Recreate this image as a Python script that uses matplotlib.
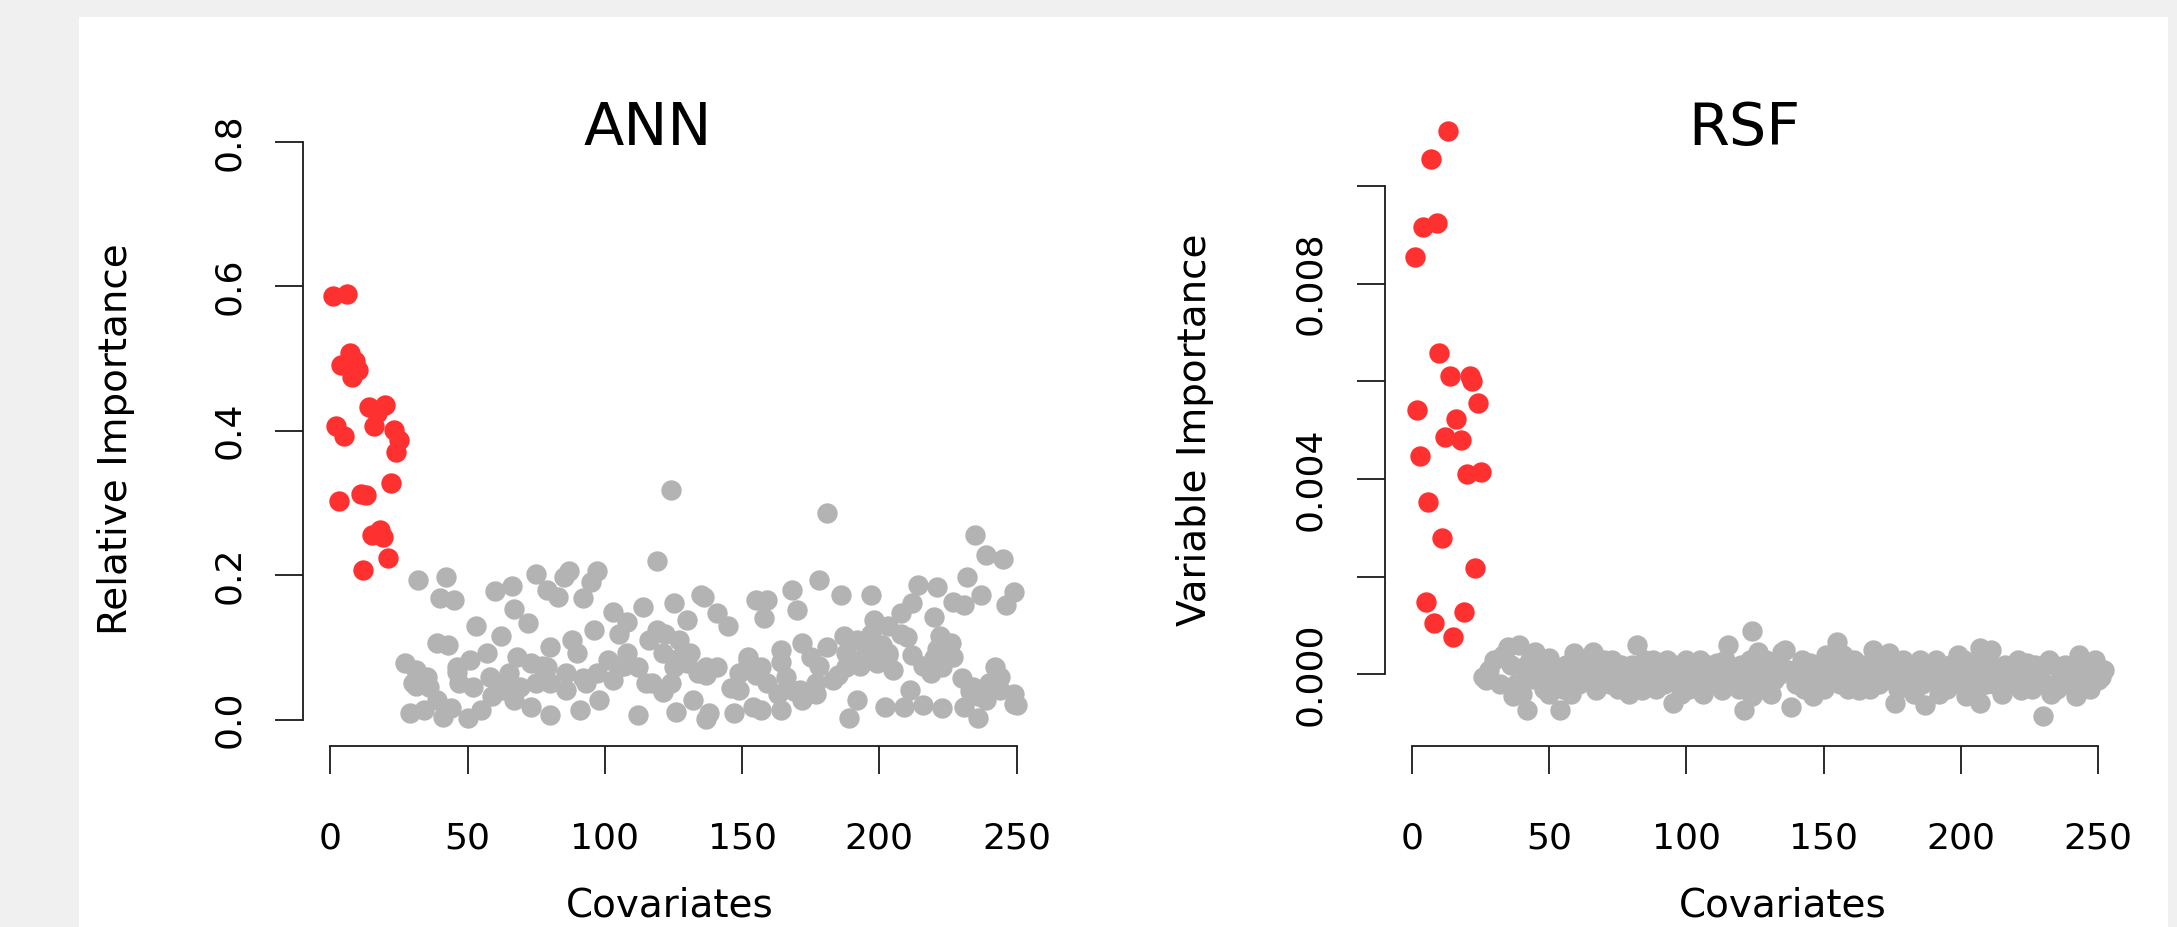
import matplotlib
matplotlib.use("Agg")
import matplotlib.pyplot as plt
from matplotlib.patches import Rectangle

plt.rcParams['font.family'] = ['DejaVu Sans']

# --- data ---
ann_red_x = list(range(1, 26))
ann_red_y = [0.586, 0.406, 0.302, 0.491, 0.392, 0.589, 0.507, 0.475, 0.497, 0.484,
             0.313, 0.207, 0.311, 0.433, 0.256, 0.406, 0.425, 0.262, 0.253, 0.436,
             0.223, 0.327, 0.401, 0.371, 0.387]

ann_gray_x = [27, 29, 30, 31, 31, 32, 34, 35, 36, 39, 39, 40, 41, 42, 43, 44, 45, 46,
              46, 47, 50, 51, 52, 53, 55, 57, 58, 59, 60, 62, 63, 64, 65, 66, 67, 67,
              68, 69, 72, 73, 73, 75, 75, 77, 79, 79, 80, 80, 80, 83, 85, 86, 86, 87,
              88, 90, 91, 92, 92, 93, 95, 96, 97, 97, 98, 101, 103, 103, 105, 105, 107,
              108, 108, 112, 112, 114, 115, 116, 117, 119, 119, 121, 121, 122, 124, 124,
              125, 125, 126, 127, 127, 130, 130, 131, 132, 134, 135, 136, 137, 137, 137,
              137, 138, 141, 141, 145, 146, 147, 149, 149, 152, 152, 154, 155, 155, 157,
              157, 158, 159, 159, 163, 164, 164, 164, 166, 168, 169, 170, 171, 172, 172,
              175, 177, 177, 178, 178, 181, 181, 183, 185, 186, 187, 188, 188, 189, 192,
              192, 193, 193, 195, 197, 197, 197, 198, 199, 201, 202, 203, 203, 203, 205,
              208, 208, 209, 210, 211, 212, 212, 214, 216, 216, 219, 220, 220, 221, 221,
              222, 223, 223, 226, 227, 227, 230, 231, 231, 232, 233, 234, 235, 236, 236,
              237, 239, 239, 240, 242, 242, 244, 244, 245, 246, 249, 249, 249, 250]
ann_gray_y = [0.078, 0.009, 0.050, 0.069, 0.046, 0.193, 0.013, 0.059, 0.045, 0.106,
              0.027, 0.168, 0.004, 0.198, 0.103, 0.016, 0.166, 0.073, 0.066, 0.050,
              0.002, 0.082, 0.045, 0.129, 0.013, 0.092, 0.059, 0.032, 0.178, 0.115,
              0.041, 0.051, 0.064, 0.185, 0.153, 0.027, 0.087, 0.045, 0.133, 0.078,
              0.018, 0.202, 0.050, 0.074, 0.179, 0.073, 0.101, 0.050, 0.006, 0.170,
              0.198, 0.041, 0.064, 0.205, 0.110, 0.092, 0.013, 0.168, 0.058, 0.050,
              0.191, 0.124, 0.205, 0.064, 0.027, 0.082, 0.149, 0.055, 0.119, 0.073,
              0.074, 0.135, 0.092, 0.073, 0.006, 0.156, 0.050, 0.110, 0.051, 0.124,
              0.219, 0.092, 0.038, 0.119, 0.318, 0.050, 0.161, 0.073, 0.011, 0.110,
              0.085, 0.138, 0.078, 0.092, 0.027, 0.064, 0.172, 0.170, 0.066, 0.001,
              0.073, 0.062, 0.009, 0.147, 0.073, 0.129, 0.043, 0.009, 0.064, 0.041,
              0.087, 0.082, 0.018, 0.166, 0.062, 0.073, 0.013, 0.140, 0.166, 0.050,
              0.036, 0.096, 0.013, 0.080, 0.059, 0.179, 0.039, 0.152, 0.041, 0.106,
              0.027, 0.087, 0.050, 0.036, 0.193, 0.074, 0.286, 0.101, 0.055, 0.062,
              0.172, 0.115, 0.073, 0.092, 0.002, 0.110, 0.027, 0.082, 0.074, 0.101,
              0.172, 0.119, 0.099, 0.138, 0.078, 0.103, 0.018, 0.129, 0.092, 0.089,
              0.069, 0.147, 0.119, 0.018, 0.114, 0.041, 0.161, 0.089, 0.186, 0.020,
              0.074, 0.064, 0.085, 0.142, 0.184, 0.097, 0.115, 0.073, 0.016, 0.106,
              0.163, 0.086, 0.058, 0.159, 0.018, 0.198, 0.040, 0.045, 0.256, 0.002,
              0.032, 0.172, 0.228, 0.027, 0.050, 0.073, 0.051, 0.059, 0.041, 0.222,
              0.159, 0.176, 0.022, 0.036, 0.020]

rsf_red_x = [1, 2, 3, 4, 5, 6, 7, 8, 9, 10, 11, 12, 13, 14, 15, 16, 18, 19, 20, 21,
             22, 23, 24, 25]
rsf_red_y = [0.00855, 0.00542, 0.00448, 0.00917, 0.00148, 0.00353, 0.01056, 0.00105,
             0.00925, 0.00659, 0.00279, 0.00486, 0.01113, 0.00610, 0.00077, 0.00524,
             0.00481, 0.00128, 0.00410, 0.00612, 0.00600, 0.00217, 0.00555, 0.00414]

rsf_gray_x = [26, 27, 28, 30, 32, 33, 35, 36, 37, 38, 39, 40, 41, 42, 43, 44, 45, 46,
              47, 48, 49, 50, 50, 51, 52, 53, 54, 55, 56, 57, 58, 59, 59, 60, 61, 62,
              63, 64, 65, 66, 67, 68, 69, 70, 71, 72, 73, 74, 75, 76, 77, 78, 79, 80,
              81, 82, 83, 84, 85, 86, 87, 88, 89, 90, 91, 92, 93, 94, 95, 95, 96, 97,
              98, 99, 100, 101, 102, 103, 104, 105, 106, 107, 108, 109, 110, 111, 112,
              113, 114, 115, 116, 117, 118, 119, 120, 121, 122, 123, 124, 124, 125,
              126, 127, 128, 129, 130, 131, 132, 133, 134, 135, 136, 137, 138, 140,
              141, 142, 143, 144, 145, 146, 147, 148, 149, 150, 151, 152, 153, 154,
              155, 156, 157, 158, 159, 160, 161, 162, 163, 164, 165, 166, 167, 168,
              169, 170, 171, 172, 173, 174, 175, 176, 177, 178, 179, 180, 181, 182,
              183, 184, 185, 186, 187, 188, 189, 190, 191, 192, 192, 193, 194, 195,
              196, 197, 198, 199, 200, 201, 202, 203, 204, 205, 206, 207, 207, 208,
              209, 210, 211, 212, 213, 214, 215, 216, 217, 218, 219, 220, 221, 222,
              223, 224, 225, 226, 227, 228, 229, 230, 231, 232, 233, 234, 235, 236,
              237, 238, 239, 240, 241, 242, 243, 244, 245, 246, 247, 248, 249, 250,
              251, 252]
rsf_gray_y = [-0.00005, -0.00011, 0.00010, 0.00030, -0.00020, 0.00040, 0.00057,
              0.00020, -0.00045, -0.00020, 0.00060, -0.00040, 0.00016, -0.00073,
              0.00030, -0.00010, 0.00047, 0.00020, -0.00011, -0.00030, 0.00010,
              0.00033, -0.00039, 0.00020, -0.00020, 0.00010, -0.00073, -0.00030,
              0.00020, -0.00010, -0.00040, 0.00043, 0.00009, 0.00010, -0.00020,
              0.00030, -0.00010, 0.00020, -0.00011, 0.00047, -0.00032, 0.00010,
              -0.00020, 0.00030, 0.00002, -0.00020, 0.00030, 0.00010, -0.00030,
              0.00020, -0.00010, 0.00009, -0.00040, 0.00020, -0.00020, 0.00060,
              0.00010, -0.00032, 0.00030, -0.00005, -0.00020, 0.00030, -0.00030,
              0.00016, 0.00010, -0.00020, 0.00030, 0.00010, -0.00059, -0.00011,
              0.00020, -0.00020, -0.00039, 0.00010, 0.00030, -0.00030, 0.00020,
              0.00009, -0.00010, 0.00030, -0.00040, -0.00011, 0.00020, -0.00020,
              0.00010, 0.00023, -0.00010, -0.00032, 0.00030, 0.00060, -0.00020,
              0.00002, 0.00010, -0.00030, 0.00020, -0.00073, -0.00010, 0.00030,
              0.00088, -0.00045, -0.00020, 0.00047, 0.00009, -0.00030, 0.00030,
              0.00010, -0.00040, -0.00011, 0.00020, 0.00002, 0.00047, 0.00050,
              0.00010, -0.00066, -0.00020, 0.00002, 0.00030, -0.00030, 0.00010,
              0.00023, -0.00045, 0.00020, -0.00020, 0.00010, -0.00030, 0.00040,
              0.00020, -0.00010, 0.00030, 0.00067, -0.00020, 0.00040, 0.00002,
              -0.00030, 0.00010, 0.00030, -0.00020, -0.00032, 0.00020, -0.00005,
              0.00010, -0.00030, 0.00050, 0.00020, -0.00020, 0.00016, 0.00030,
              -0.00010, 0.00043, 0.00020, -0.00059, -0.00030, 0.00010, 0.00030,
              -0.00005, -0.00020, 0.00020, -0.00040, 0.00010, 0.00030, -0.00020,
              -0.00062, 0.00002, 0.00020, -0.00010, 0.00030, 0.00016, -0.00039,
              -0.00020, 0.00010, -0.00030, 0.00020, -0.00005, 0.00010, 0.00040,
              -0.00020, 0.00030, -0.00045, 0.00010, -0.00011, 0.00020, -0.00030,
              0.00054, -0.00059, 0.00010, -0.00020, 0.00030, 0.00050, -0.00020,
              0.00009, 0.00010, -0.00040, 0.00020, -0.00011, -0.00020, 0.00002,
              0.00010, 0.00030, -0.00032, -0.00020, 0.00023, 0.00010, -0.00030,
              0.00020, -0.00005, 0.00010, -0.00086, -0.00020, 0.00030, -0.00039,
              0.00019, -0.00030, 0.00010, -0.00005, 0.00020, -0.00020, -0.00018,
              0.00010, -0.00045, 0.00040, -0.00020, 0.00020, 0.00009, -0.00030,
              0.00010, 0.00030, -0.00011, -0.00005, 0.00010]

x_ticks = [0, 50, 100, 150, 200, 250]
ann_yticks = [0.0, 0.2, 0.4, 0.6, 0.8]
ann_ylabels = ["0.0", "0.2", "0.4", "0.6", "0.8"]
rsf_yticks = [0.000, 0.002, 0.004, 0.006, 0.008, 0.010]
rsf_ylabels = ["0.000", "", "0.004", "", "0.008", ""]

RED = "#ff3030"
GRAY = "#b3b3b3"
INK = "#1a1a1a"

W, H = 2177, 927
fig = plt.figure(figsize=(W / 100, H / 100), dpi=100)
fig.patch.set_facecolor("#f0f0f0")
fig.add_artist(Rectangle((79 / W, 0), (2168 - 79) / W, (H - 17) / H,
                         transform=fig.transFigure, facecolor="white",
                         edgecolor="none", zorder=-10))


def fx(x):
    return x / W


def fy(y):
    return 1 - y / H


def panel(left, right, ylim, xr, yr, xg, yg, yticks, ylabels):
    top, bottom = 60, 746
    ax = fig.add_axes([fx(left), fy(bottom), (right - left) / W, (bottom - top) / H])
    ax.set_facecolor("none")
    ax.scatter(xg, yg, s=215, c=GRAY, linewidths=0, clip_on=False)
    ax.scatter(xr, yr, s=215, c=RED, linewidths=0, clip_on=False)
    ax.set_xlim(-10, 262)
    ax.set_ylim(*ylim)
    for s in ["top", "right"]:
        ax.spines[s].set_visible(False)
    for s in ["left", "bottom"]:
        ax.spines[s].set_linewidth(1.3)
        ax.spines[s].set_color(INK)
    ax.spines["left"].set_bounds(yticks[0], yticks[-1])
    ax.spines["bottom"].set_bounds(x_ticks[0], x_ticks[-1])
    ax.set_xticks(x_ticks)
    ax.set_yticks(yticks, labels=ylabels)
    ax.tick_params(direction="out", length=20, width=1.3, color=INK,
                   labelsize=26, labelcolor="black")
    ax.tick_params(axis="x", pad=53.5)
    ax.tick_params(axis="y", pad=26)
    for t in ax.get_xticklabels():
        t.set_va("baseline")
    for t in ax.get_yticklabels():
        t.set_rotation(90)
        t.set_rotation_mode("anchor")
        t.set_ha("center")
        t.set_va("baseline")
    return ax


# ANN panel
panel(303, 1049.5, (-0.0367, 0.9134), ann_red_x, ann_red_y, ann_gray_x, ann_gray_y,
      ann_yticks, ann_ylabels)
fig.text(fx(648), fy(145), "ANN", fontsize=42.5, ha="center", va="baseline")
fig.text(fx(670), fy(916.5), "Covariates", fontsize=28, ha="center", va="baseline")
fig.text(fx(127), fy(439), "Relative Importance", fontsize=28, rotation=90,
         rotation_mode="anchor", ha="center", va="baseline")

# RSF panel
panel(1384.5, 2131, (-0.001464, 0.012579), rsf_red_x, rsf_red_y, rsf_gray_x, rsf_gray_y,
      rsf_yticks, rsf_ylabels)
fig.text(fx(1744), fy(145), "RSF", fontsize=42.5, ha="center", va="baseline")
fig.text(fx(1783), fy(916.5), "Covariates", fontsize=28, ha="center", va="baseline")
fig.text(fx(1206), fy(430), "Variable Importance", fontsize=28, rotation=90,
         rotation_mode="anchor", ha="center", va="baseline")

fig.savefig("out.png", dpi=100, facecolor=fig.get_facecolor())
